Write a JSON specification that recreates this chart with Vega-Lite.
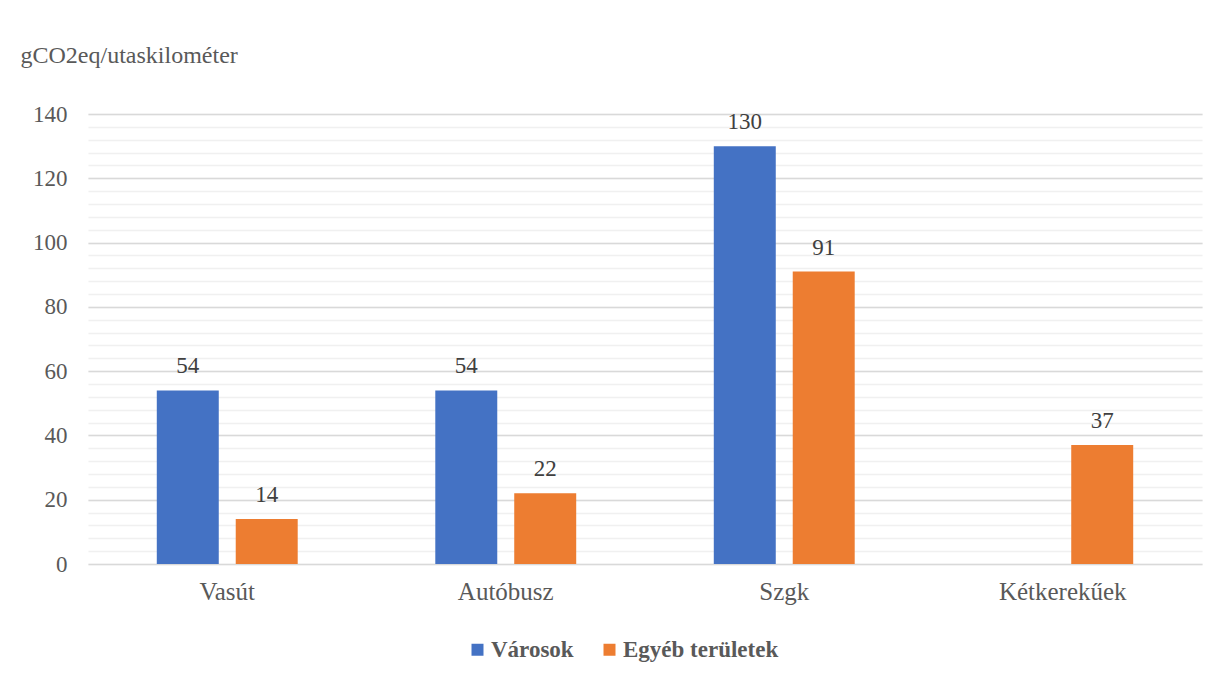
{
  "$schema": "https://vega.github.io/schema/vega-lite/v6.json",
  "autosize": {"type": "none"},
  "width": 1114,
  "height": 450,
  "padding": {"left": 88, "top": 114, "right": 24, "bottom": 118},
  "background": "white",
  "config": {
    "view": {"stroke": null},
    "font": "Liberation Serif",
    "axis": {"labelFont": "Liberation Serif", "titleFont": "Liberation Serif", "labelColor": "#595959", "titleColor": "#595959"},
    "legend": {"labelFont": "Liberation Serif"},
    "text": {"font": "Liberation Serif"}
  },
  "data": {
    "values": [
      {"mode": "Vasút", "area": "Városok", "value": 54},
      {"mode": "Vasút", "area": "Egyéb területek", "value": 14},
      {"mode": "Autóbusz", "area": "Városok", "value": 54},
      {"mode": "Autóbusz", "area": "Egyéb területek", "value": 22},
      {"mode": "Szgk", "area": "Városok", "value": 130},
      {"mode": "Szgk", "area": "Egyéb területek", "value": 91},
      {"mode": "Kétkerekűek", "area": "Egyéb területek", "value": 37}
    ]
  },
  "encoding": {
    "x": {
      "field": "mode",
      "type": "nominal",
      "sort": ["Vasút", "Autóbusz", "Szgk", "Kétkerekűek"],
      "scale": {"paddingInner": 0.494, "paddingOuter": 0.247},
      "axis": {
        "title": null,
        "labelAngle": 0,
        "labelFontSize": 25,
        "labelPadding": 15,
        "ticks": false,
        "domain": false,
        "grid": false
      }
    },
    "xOffset": {
      "field": "area",
      "type": "nominal",
      "sort": ["Városok", "Egyéb területek"],
      "scale": {"paddingInner": 0.215, "paddingOuter": 0}
    }
  },
  "layer": [
    {
      "mark": {"type": "bar"},
      "encoding": {
        "y": {
          "field": "value",
          "type": "quantitative",
          "scale": {"domain": [0, 140], "nice": false},
          "axis": {
            "orient": "left",
            "title": null,
            "values": [0, 4, 8, 12, 16, 20, 24, 28, 32, 36, 40, 44, 48, 52, 56, 60, 64, 68, 72, 76, 80, 84, 88, 92, 96, 100, 104, 108, 112, 116, 120, 124, 128, 132, 136, 140],
            "labels": false,
            "ticks": false,
            "domain": false,
            "grid": true,
            "gridColor": "#f0f0f0",
            "gridWidth": 1.5
          }
        },
        "color": {
          "field": "area",
          "type": "nominal",
          "sort": ["Városok", "Egyéb területek"],
          "scale": {"domain": ["Városok", "Egyéb területek"], "range": ["#4472C4", "#ED7D31"]},
          "legend": {
            "title": null,
            "orient": "none",
            "direction": "horizontal",
            "legendX": 378,
            "legendY": 524,
            "symbolType": "square",
            "symbolSize": 144,
            "symbolStrokeWidth": 0,
            "labelFontSize": 23,
            "labelFontWeight": "bold",
            "labelColor": "#595959",
            "labelOffset": 2,
            "columnPadding": 24
          }
        }
      }
    },
    {
      "mark": {"type": "text", "baseline": "middle", "dy": -24, "fontSize": 23, "color": "#404040", "font": "Liberation Serif"},
      "encoding": {
        "y": {
          "field": "value",
          "type": "quantitative",
          "axis": {
            "orient": "left",
            "title": "gCO2eq/utaskilométer",
            "titleAngle": 0,
            "titleAlign": "left",
            "titleBaseline": "alphabetic",
            "titleX": -68,
            "titleY": -52,
            "titleFontSize": 24,
            "titleFontWeight": "normal",
            "values": [0, 20, 40, 60, 80, 100, 120, 140],
            "labelFontSize": 23,
            "labelPadding": 21,
            "ticks": false,
            "domain": false,
            "grid": true,
            "gridColor": "#d9d9d9",
            "gridWidth": 1.5
          }
        },
        "text": {"field": "value", "type": "quantitative"}
      }
    }
  ],
  "resolve": {"axis": {"y": "independent"}}
}
